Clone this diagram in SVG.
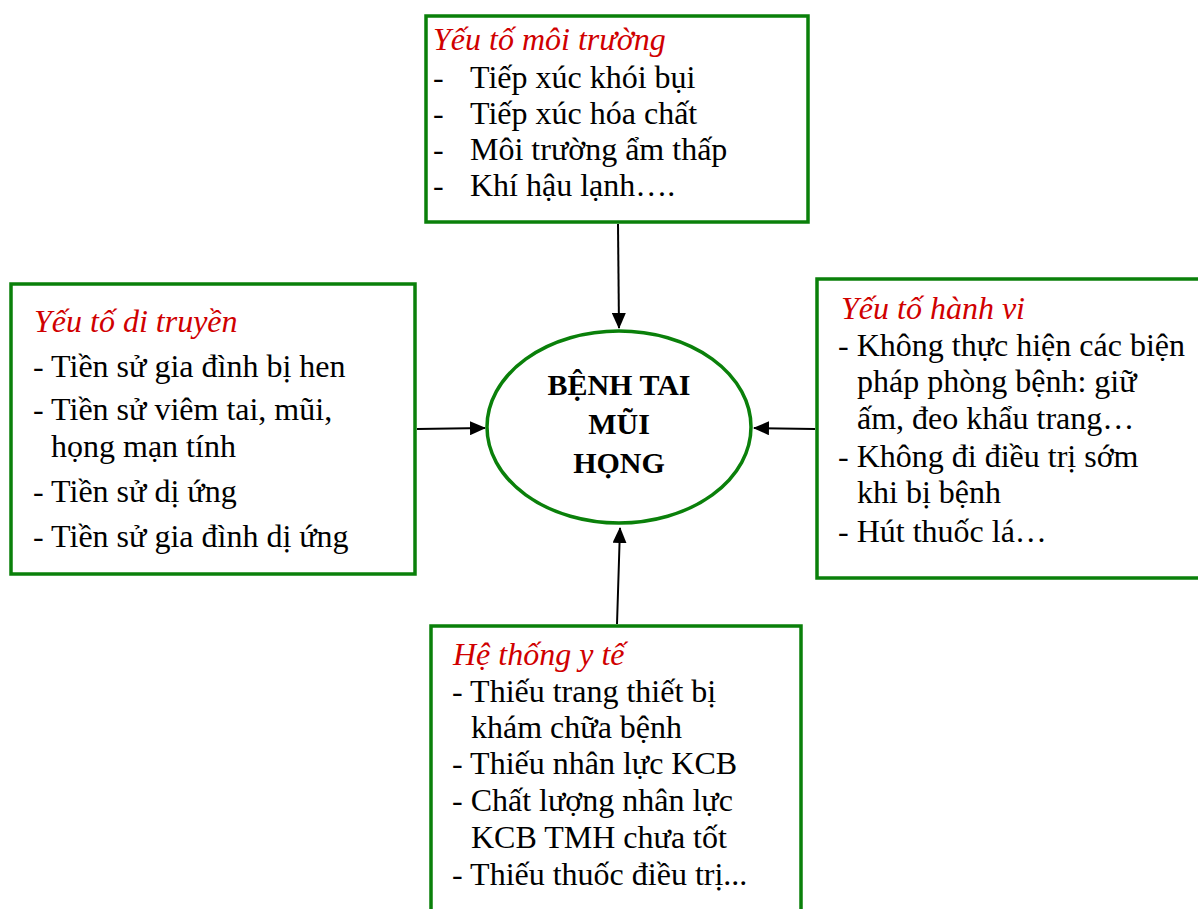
<svg xmlns="http://www.w3.org/2000/svg" width="1198" height="909" viewBox="0 0 1198 909">
<defs>
<marker id="ah" markerWidth="16" markerHeight="14" refX="15" refY="7" orient="auto" markerUnits="userSpaceOnUse" viewBox="0 0 16 14">
<path d="M0,0 L16,7 L0,14 z" fill="#000"/>
</marker>
<style>
.box{fill:#fff;stroke:#0a800a;stroke-width:3.5}
.t{font-family:"Liberation Serif","Times New Roman",serif;font-size:32px;fill:#000}
.h{font-family:"Liberation Serif","Times New Roman",serif;font-size:32px;font-style:italic;fill:#d00000}
.c{font-family:"Liberation Serif","Times New Roman",serif;font-size:30px;font-weight:bold;fill:#000;text-anchor:middle}
.conn{stroke:#000;stroke-width:2;fill:none;marker-end:url(#ah)}
</style>
</defs>
<rect width="1198" height="909" fill="#fff"/>
<g id="connectors">
<line class="conn" x1="618" y1="224" x2="619" y2="328"/>
<line class="conn" x1="417" y1="429" x2="485" y2="428"/>
<line class="conn" x1="815" y1="429" x2="754" y2="428"/>
<line class="conn" x1="617" y1="624" x2="620" y2="528"/>
</g>
<g id="center">
<ellipse cx="619" cy="427" rx="132" ry="96" fill="#fff" stroke="#0a800a" stroke-width="3.5"/>
<text class="c" x="619" y="395">BỆNH TAI</text>
<text class="c" x="619" y="434">MŨI</text>
<text class="c" x="619" y="473">HỌNG</text>
</g>
<g id="env">
<rect class="box" x="426" y="16" width="382" height="206"/>
<text class="h" x="433" y="50">Yếu tố môi trường</text>
<text class="t" x="433" y="88">-</text><text class="t" x="470" y="88">Tiếp xúc khói bụi</text>
<text class="t" x="433" y="124">-</text><text class="t" x="470" y="124">Tiếp xúc hóa chất</text>
<text class="t" x="433" y="160">-</text><text class="t" x="470" y="160">Môi trường ẩm thấp</text>
<text class="t" x="433" y="196">-</text><text class="t" x="470" y="196">Khí hậu lạnh….</text>
</g>
<g id="gen">
<rect class="box" x="11" y="284" width="404" height="290"/>
<text class="h" x="34" y="332">Yếu tố di truyền</text>
<text class="t" x="33" y="377">- Tiền sử gia đình bị hen</text>
<text class="t" x="33" y="420">- Tiền sử viêm tai, mũi,</text>
<text class="t" x="51" y="457">họng mạn tính</text>
<text class="t" x="33" y="502">- Tiền sử dị ứng</text>
<text class="t" x="33" y="547">- Tiền sử gia đình dị ứng</text>
</g>
<g id="beh">
<rect class="box" x="817" y="279" width="383" height="299"/>
<text class="h" x="841" y="319">Yếu tố hành vi</text>
<text class="t" x="838" y="356">- Không thực hiện các biện</text>
<text class="t" x="857" y="392">pháp phòng bệnh: giữ</text>
<text class="t" x="857" y="429">ấm, đeo khẩu trang…</text>
<text class="t" x="838" y="467">- Không đi điều trị sớm</text>
<text class="t" x="857" y="503">khi bị bệnh</text>
<text class="t" x="838" y="542">- Hút thuốc lá…</text>
</g>
<g id="health">
<rect class="box" x="431" y="626" width="370" height="290"/>
<text class="h" x="453" y="665">Hệ thống y tế</text>
<text class="t" x="452" y="702">- Thiếu trang thiết bị</text>
<text class="t" x="471" y="738">khám chữa bệnh</text>
<text class="t" x="452" y="774">- Thiếu nhân lực KCB</text>
<text class="t" x="452" y="811">- Chất lượng nhân lực</text>
<text class="t" x="471" y="848">KCB TMH chưa tốt</text>
<text class="t" x="452" y="885">- Thiếu thuốc điều trị...</text>
</g>
</svg>
